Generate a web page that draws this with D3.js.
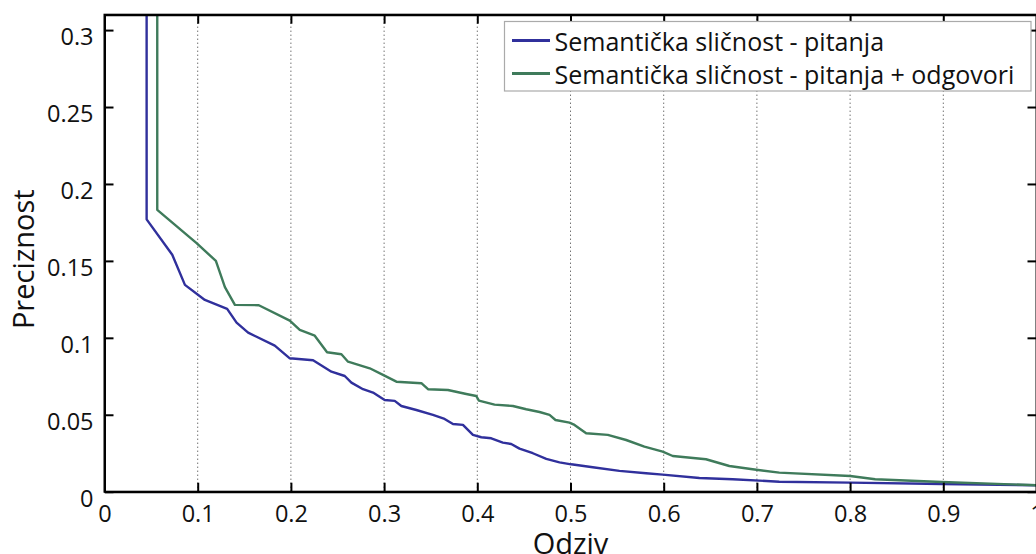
<!DOCTYPE html>
<html>
<head>
<meta charset="utf-8">
<script src="https://cdn.jsdelivr.net/npm/d3@7"></script>
<style>
  html, body { margin: 0; padding: 0; background: #fff; }
  svg { display: block; }
  text { font-family: "Open Sans", "DejaVu Sans", sans-serif; fill: #111; }
</style>
</head>
<body>
<svg id="chart" width="1036" height="554"></svg>
<script>
// Precision–recall curves for two semantic-similarity retrieval variants
const seriesNames = [
  "Semantička sličnost - pitanja",
  "Semantička sličnost - pitanja + odgovori"
];
const seriesColors = ["#30309c", "#3f7b5b"];

// Series 1: questions only
const recallQ = [0.0452, 0.0452, 0.0727, 0.0863, 0.1077, 0.1316, 0.1417, 0.1541, 0.1827, 0.1988,
  0.2238, 0.2435, 0.2578, 0.2649, 0.2774, 0.2881, 0.3006, 0.3114, 0.3185, 0.3346,
  0.3524, 0.3649, 0.3739, 0.3846, 0.3953, 0.4043, 0.4150, 0.4274, 0.4364, 0.4453,
  0.4596, 0.4740, 0.4882, 0.5007, 0.5239, 0.5525, 0.5811, 0.5989, 0.6383, 0.6740,
  0.7240, 0.8001, 0.8984, 1.0];
const precisionQ = [1.0, 0.177, 0.154, 0.1344, 0.1246, 0.1188, 0.1099, 0.1034, 0.0949, 0.0867,
  0.0854, 0.0780, 0.0752, 0.0709, 0.0666, 0.0644, 0.0596, 0.0590, 0.0557, 0.0531,
  0.0499, 0.0473, 0.0440, 0.0434, 0.0369, 0.0354, 0.0347, 0.0319, 0.0310, 0.0280,
  0.0250, 0.0213, 0.0191, 0.0178, 0.0159, 0.0135, 0.0120, 0.0111, 0.0089, 0.0081,
  0.0065, 0.0059, 0.0050, 0.0042];

// Series 2: questions + answers
const recallQA = [0.0566, 0.0566, 0.0988, 0.1195, 0.1292, 0.1399, 0.1656, 0.1988, 0.2095, 0.2256,
  0.2388, 0.2542, 0.2613, 0.2846, 0.2988, 0.3132, 0.3400, 0.3471, 0.3685, 0.3882,
  0.3989, 0.4017, 0.4185, 0.4382, 0.4525, 0.4668, 0.4775, 0.4839, 0.4989, 0.5043,
  0.5168, 0.5400, 0.5597, 0.5793, 0.5989, 0.6097, 0.6454, 0.6704, 0.6954, 0.7240,
  0.8001, 0.8269, 0.8984, 1.0];
const precisionQA = [1.0, 0.1832, 0.1615, 0.1500, 0.1329, 0.1214, 0.1212, 0.1112, 0.1051, 0.1014,
  0.0906, 0.0893, 0.0845, 0.0802, 0.0759, 0.0715, 0.0705, 0.0666, 0.0661, 0.0635,
  0.0622, 0.0592, 0.0566, 0.0557, 0.0536, 0.0518, 0.0499, 0.0466, 0.0449, 0.0434,
  0.0380, 0.0369, 0.0336, 0.0293, 0.0260, 0.0232, 0.0211, 0.0167, 0.0146, 0.0124,
  0.0102, 0.0081, 0.0063, 0.0042];

const xTicks = [0, 0.1, 0.2, 0.3, 0.4, 0.5, 0.6, 0.7, 0.8, 0.9, 1];
const xTickLabels = ["0", "0.1", "0.2", "0.3", "0.4", "0.5", "0.6", "0.7", "0.8", "0.9", "1"];
const yTicks = [0, 0.05, 0.1, 0.15, 0.2, 0.25, 0.3];
const yTickLabels = ["0", "0.05", "0.1", "0.15", "0.2", "0.25", "0.3"];
const xLabel = "Odziv";
const yLabel = "Preciznost";

const svg = d3.select("#chart");
const plotLeft = 104.5, plotRight = 1036.5, plotTop = 14.7, plotBottom = 491.7;
const x = d3.scaleLinear().domain([0, 1]).range([plotLeft, plotRight]);
const y = d3.scaleLinear().domain([0, 0.31]).range([plotBottom, plotTop]);
const tickLen = 9;

// vertical dotted grid
svg.append("g")
  .selectAll("line")
  .data(xTicks.filter(t => t > 0 && t < 1))
  .join("line")
  .attr("x1", d => x(d)).attr("x2", d => x(d))
  .attr("y1", plotTop).attr("y2", plotBottom)
  .attr("stroke", "#333")
  .attr("stroke-width", 1)
  .attr("stroke-dasharray", "1,3");

// clipped data lines
svg.append("clipPath").attr("id", "plotClip")
  .append("rect")
  .attr("x", plotLeft).attr("y", plotTop)
  .attr("width", plotRight - plotLeft).attr("height", plotBottom - plotTop);

const line = d3.line().x(d => x(d[0])).y(d => y(d[1]));
const series = [
  d3.zip(recallQ, precisionQ),
  d3.zip(recallQA, precisionQA)
];
svg.append("g").attr("clip-path", "url(#plotClip)")
  .selectAll("path")
  .data(series)
  .join("path")
  .attr("d", line)
  .attr("fill", "none")
  .attr("stroke", (d, i) => seriesColors[i])
  .attr("stroke-width", 2.4)
  .attr("stroke-linejoin", "round");

// axes: bottom and left with labels, top and right mirrored ticks only
const fmtX = (d, i) => xTickLabels[i];
const fmtY = (d, i) => yTickLabels[i];

const axBottom = svg.append("g").attr("transform", `translate(0,${plotBottom})`)
  .call(d3.axisBottom(x).tickValues(xTicks).tickFormat(fmtX).tickSizeInner(-tickLen).tickSizeOuter(0).tickPadding(20));
const axTop = svg.append("g").attr("transform", `translate(0,${plotTop})`)
  .call(d3.axisTop(x).tickValues(xTicks).tickFormat("").tickSizeInner(-tickLen).tickSizeOuter(0));
const axLeft = svg.append("g").attr("transform", `translate(${plotLeft},0)`)
  .call(d3.axisLeft(y).tickValues(yTicks).tickFormat(fmtY).tickSizeInner(-tickLen).tickSizeOuter(0).tickPadding(11));
const axRight = svg.append("g").attr("transform", `translate(${plotRight},0)`)
  .call(d3.axisRight(y).tickValues(yTicks).tickFormat("").tickSizeInner(-tickLen).tickSizeOuter(0));

[axBottom, axTop, axLeft, axRight].forEach(g => {
  g.attr("font-family", null).attr("font-size", null);
  g.select(".domain").attr("stroke", "#000").attr("stroke-width", 2);
  g.selectAll(".tick line").attr("stroke", "#000").attr("stroke-width", 2);
  g.selectAll("text").attr("font-size", 23.5).attr("fill", "#111");
});
axLeft.selectAll(".tick text").attr("dy", "0.62em").attr("x", -11);
axBottom.selectAll(".tick text").attr("dy", "0em").attr("y", 30);
// close the frame corners
svg.append("rect")
  .attr("x", plotLeft).attr("y", plotTop)
  .attr("width", plotRight - plotLeft).attr("height", plotBottom - plotTop)
  .attr("fill", "none").attr("stroke", "#000").attr("stroke-width", 2);

// axis titles
svg.append("text")
  .attr("x", (plotLeft + plotRight) / 2).attr("y", 554)
  .attr("text-anchor", "middle").attr("font-size", 29)
  .text(xLabel);
svg.append("text")
  .attr("transform", `translate(33.5,${(plotTop + plotBottom) / 2 + 6}) rotate(-90)`)
  .attr("text-anchor", "middle").attr("font-size", 29)
  .text(yLabel);

// legend
const legend = svg.append("g");
legend.append("rect")
  .attr("x", 504.5).attr("y", 21.5).attr("width", 526.5).attr("height", 69.5)
  .attr("fill", "#fff").attr("stroke", "#aaa").attr("stroke-width", 1.2);
const rows = legend.selectAll("g.row").data(seriesNames).join("g")
  .attr("class", "row")
  .attr("transform", (d, i) => `translate(0,${i === 0 ? 0 : 33})`);
rows.append("line")
  .attr("x1", 512).attr("x2", 550).attr("y1", 40.5).attr("y2", 40.5)
  .attr("stroke", (d, i) => seriesColors[i]).attr("stroke-width", 2.8);
rows.append("text")
  .attr("x", 554.5).attr("y", 51.3)
  .attr("font-size", 25)
  .text(d => d);
</script>
</body>
</html>
